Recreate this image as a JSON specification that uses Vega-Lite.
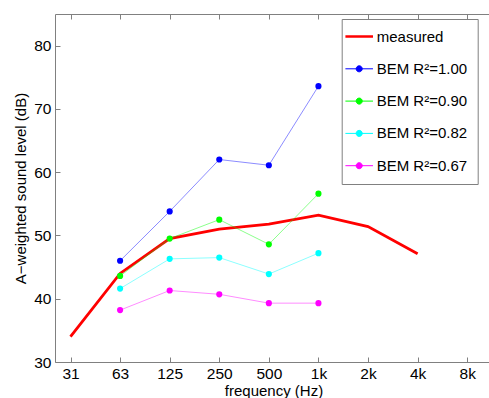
{
  "$schema": "https://vega.github.io/schema/vega-lite/v6.json",
  "autosize": {"type": "none"},
  "padding": {"left": 55, "top": 14, "right": 0, "bottom": 40},
  "width": 437,
  "height": 348,
  "background": "white",
  "config": {
    "view": {"stroke": "#808080", "strokeWidth": 1},
    "font": "Liberation Sans",
    "axis": {
      "labelFont": "Liberation Sans", "labelFontSize": 15.5, "labelColor": "black",
      "titleFont": "Liberation Sans", "titleFontSize": 15, "titleFontWeight": "normal", "titleColor": "black",
      "domain": false, "grid": false, "tickColor": "#808080", "tickSize": -5, "tickWidth": 1
    },
    "legend": {"labelFont": "Liberation Sans"}
  },
  "datasets": {
    "measured": [
      {"freq": 31.25, "series": "measured", "level": 34.0},
      {"freq": 62.5, "series": "measured", "level": 44.0},
      {"freq": 125, "series": "measured", "level": 49.5},
      {"freq": 250, "series": "measured", "level": 51.0},
      {"freq": 500, "series": "measured", "level": 51.8},
      {"freq": 1000, "series": "measured", "level": 53.2},
      {"freq": 2000, "series": "measured", "level": 51.4},
      {"freq": 4000, "series": "measured", "level": 47.1}
    ],
    "bem": [
      {"freq": 62.5, "series": "BEM R²=1.00", "level": 46.0},
      {"freq": 125, "series": "BEM R²=1.00", "level": 53.8},
      {"freq": 250, "series": "BEM R²=1.00", "level": 62.0},
      {"freq": 500, "series": "BEM R²=1.00", "level": 61.1},
      {"freq": 1000, "series": "BEM R²=1.00", "level": 73.6},
      {"freq": 62.5, "series": "BEM R²=0.90", "level": 43.6},
      {"freq": 125, "series": "BEM R²=0.90", "level": 49.5},
      {"freq": 250, "series": "BEM R²=0.90", "level": 52.5},
      {"freq": 500, "series": "BEM R²=0.90", "level": 48.6},
      {"freq": 1000, "series": "BEM R²=0.90", "level": 56.6},
      {"freq": 62.5, "series": "BEM R²=0.82", "level": 41.6},
      {"freq": 125, "series": "BEM R²=0.82", "level": 46.3},
      {"freq": 250, "series": "BEM R²=0.82", "level": 46.5},
      {"freq": 500, "series": "BEM R²=0.82", "level": 43.9},
      {"freq": 1000, "series": "BEM R²=0.82", "level": 47.2},
      {"freq": 62.5, "series": "BEM R²=0.67", "level": 38.2},
      {"freq": 125, "series": "BEM R²=0.67", "level": 41.3},
      {"freq": 250, "series": "BEM R²=0.67", "level": 40.7},
      {"freq": 500, "series": "BEM R²=0.67", "level": 39.3},
      {"freq": 1000, "series": "BEM R²=0.67", "level": 39.3}
    ]
  },
  "resolve": {"axis": {"x": "independent"}},
  "layer": [
    {
      "data": {"name": "measured"},
      "mark": {"type": "line", "strokeWidth": 2.8, "clip": true},
      "encoding": {
        "x": {
          "field": "freq", "type": "quantitative",
          "scale": {"type": "log", "base": 2, "domain": [25.16, 11314], "nice": false},
          "axis": {
            "orient": "bottom", "title": "frequency (Hz)", "titlePadding": 2,
            "values": [31.25, 62.5, 125, 250, 500, 1000, 2000, 4000, 8000],
            "labelExpr": "datum.value >= 1000 ? round(datum.value/1000) + 'k' : '' + round(datum.value)",
            "labelPadding": 9, "labelFlush": false, "labelOverlap": false
          }
        },
        "y": {
          "field": "level", "type": "quantitative",
          "scale": {"domain": [30, 85], "nice": false, "zero": false},
          "axis": {"title": "A−weighted sound level (dB)", "values": [30, 40, 50, 60, 70, 80], "labelPadding": 9, "titlePadding": 5}
        },
        "color": {
          "field": "series", "type": "nominal",
          "scale": {
            "domain": ["measured", "BEM R²=1.00", "BEM R²=0.90", "BEM R²=0.82", "BEM R²=0.67"],
            "range": ["#ff0000", "#0000ff", "#00ff00", "#00ffff", "#ff00ff"]
          },
          "legend": {
            "title": null,
            "orient": "none", "legendX": 286.7, "legendY": 5,
            "direction": "vertical",
            "symbolType": "M-1,0H1",
            "symbolSize": 760,
            "labelFontSize": 15, "labelColor": "black", "labelOffset": 10,
            "labelExpr": "datum.label + '    '",
            "padding": 10, "rowPadding": 16.3,
            "strokeColor": "#808080", "fillColor": "white",
            "encode": {
              "symbols": {"update": {
                "shape": {"signal": "datum.value === 'measured' ? 'M-1,0H1' : 'M-1,0H1M-0.22,0A0.22,0.22 0 1,1 0.22,0A0.22,0.22 0 1,1 -0.22,0'"},
                "strokeWidth": {"signal": "datum.value === 'measured' ? 2.5 : 1"},
                "fill": {"signal": "datum.value === 'measured' ? 'transparent' : scale('color', datum.value)"},
                "stroke": {"signal": "scale('color', datum.value)"},
                "opacity": {"value": 1}
              }}
            }
          }
        }
      }
    },
    {
      "data": {"name": "bem"},
      "mark": {"type": "line", "strokeWidth": 0.7, "strokeOpacity": 0.65, "point": {"filled": true, "size": 38, "opacity": 1}},
      "encoding": {
        "x": {
          "field": "freq", "type": "quantitative",
          "axis": {
            "orient": "top", "title": null, "labels": false,
            "values": [31.25, 62.5, 125, 250, 500, 1000, 2000, 4000, 8000]
          }
        },
        "y": {"field": "level", "type": "quantitative"},
        "color": {"field": "series", "type": "nominal"}
      }
    }
  ]
}
